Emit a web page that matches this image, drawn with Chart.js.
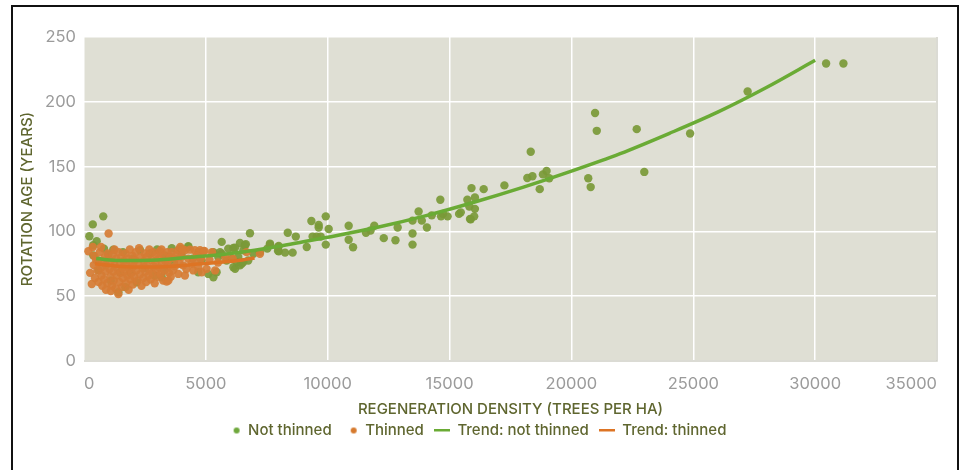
<!DOCTYPE html>
<html>
<head>
<meta charset="utf-8">
<script src="https://cdn.jsdelivr.net/npm/chart.js@4.4.1/dist/chart.umd.min.js"></script>
<style>
    html, body { margin: 0; padding: 0; background: #fff; }
    #marco { position: absolute; left: 11px; top: 5px; width: 948px; height: 500px; border: 2px solid #111; box-sizing: border-box; }
    #contenedor { position: absolute; left: 0; top: 0; width: 963px; height: 470px; }
</style>
</head>
<body>
<div id="marco"></div>
<div id="contenedor"><canvas id="grafico"></canvas></div>
<script>

// [density, age]
let notThinned = [
    [220, 96.3], [360, 105.4], [790, 111.6], [520, 92.4], [380, 89.3], [820, 86.7], [1200, 85.9], [380, 81.5], [590, 77.6],
    [2300, 85.4], [3940, 86.7], [4280, 88], [3320, 81.5], [3530, 80.2], [3190, 64.6], [2160, 60.7], [1410, 53], [1890, 68.5], [1480, 68.5],
    [4280, 88.5], [4690, 84], [4830, 77.6], [4690, 68.5],
    [1000, 82], [1600, 84], [2700, 83], [3000, 86], [3600, 87], [4000, 82], [2500, 72], [2900, 66], [1100, 62], [1700, 57],
    [3700, 75], [4450, 79], [2000, 79], [3300, 70], [600, 70], [900, 74],
    [5100, 67.2], [5310, 64.6], [5310, 84], [5510, 80.2], [5580, 84], [5650, 91.9], [5650, 82.8], [5850, 77.6], [5920, 86.7],
    [6060, 78.9], [6130, 87.2], [6130, 72.4], [6200, 87.5], [6200, 71.1], [6270, 76.3], [6330, 80.2], [6400, 91.1], [6400, 73.8],
    [6470, 75], [6540, 85.4], [6540, 76.3], [6600, 89.3], [6640, 90.1], [6740, 77.6], [6810, 98.6], [6950, 82.8], [5440, 68.5],
    [7220, 84], [7520, 86.7], [7630, 89.8], [7990, 88.8], [7990, 84.7],
    [7630, 90.6], [7960, 88], [7960, 85], [8250, 83.6], [8560, 83.6], [8360, 99], [8690, 96], [9140, 88], [9330, 108],
    [9380, 96], [9550, 96], [9710, 96], [9630, 105], [9630, 103], [9920, 111.6], [10040, 101.8], [9920, 89.8],
    [10860, 104.4], [10860, 93.5], [11040, 87.8], [11570, 99], [11760, 100.7], [11910, 104.4],
    [12300, 94.8], [12780, 93.2], [12870, 103], [13480, 98.4], [13480, 89.8], [13480, 108.3], [13730, 115.3], [13860, 108.3],
    [14070, 103], [14270, 112.4], [14650, 111.6], [14730, 113.5], [14920, 111.6], [15390, 113.5], [15460, 114.7], [15840, 109.6],
    [14620, 124.4], [15730, 124.4], [15900, 133.4], [16040, 126.2], [15810, 119.2], [16040, 117.4], [16010, 111.6], [15870, 109.3],
    [16400, 132.6], [17250, 135.5], [18330, 161.5], [18190, 141.2], [18400, 142.5], [18700, 132.6], [18830, 144], [18980, 146.6],
    [19090, 141], [20690, 141], [20790, 134.2], [20970, 191.4], [21040, 177.6], [22680, 178.9], [22990, 145.9], [24870, 175.5],
    [27230, 208], [30450, 229.5], [31160, 229.5]
];

let thinned = [
    [180, 84.7], [360, 88], [320, 59.4], [250, 68], [400, 74], [450, 64], [500, 78], [550, 70], [600, 61], [420, 81],
    [650, 84], [700, 72], [720, 66], [750, 58], [780, 77], [820, 63], [850, 80], [880, 69], [900, 74], [950, 60], [980, 83],
    [1010, 98.4], [700, 88], [900, 55],
    [1050, 71], [1080, 65], [1100, 77], [1150, 58], [1180, 82], [1200, 69], [1220, 62], [1250, 74], [1300, 56], [1320, 79],
    [1350, 66], [1380, 71], [1410, 51.6], [1430, 84], [1450, 61], [1480, 75], [1500, 68], [1250, 86], [1100, 54],
    [1530, 80], [1560, 57], [1580, 72], [1600, 64], [1640, 77], [1680, 69], [1700, 83], [1720, 60], [1750, 74], [1780, 66],
    [1800, 79], [1830, 55], [1860, 71], [1880, 86], [1900, 63], [1930, 76], [1960, 68], [1990, 81], [2000, 59],
    [2030, 73], [2060, 65], [2100, 78], [2130, 84], [2160, 70], [2200, 62], [2230, 75], [2260, 87], [2300, 67], [2330, 80],
    [2360, 58], [2400, 72], [2430, 64], [2460, 77], [2490, 83],
    [2520, 69], [2550, 61], [2580, 74], [2620, 81], [2650, 66], [2680, 86], [2700, 71], [2740, 63], [2770, 78], [2800, 68],
    [2840, 84], [2870, 73], [2900, 60], [2930, 76], [2960, 82], [2990, 70],
    [3030, 65], [3060, 79], [3100, 72], [3120, 84.7], [3150, 67], [3180, 86], [3210, 75], [3250, 62], [3280, 81], [3300, 70],
    [3340, 77], [3390, 61.3], [3420, 84], [3460, 73], [3460, 77.6], [3490, 68],
    [3600, 84], [3530, 80], [3730, 78.9], [3730, 73], [3870, 85.4], [3870, 67.2], [3560, 65], [3650, 70], [3800, 82], [3920, 75],
    [3460, 62], [3950, 88],
    [4010, 80.2], [4070, 73.8], [4140, 85.4], [4140, 66], [4280, 78.9], [4350, 85.9], [4420, 75], [4490, 69.9], [4200, 71], [4050, 86],
    [4550, 85.4], [4550, 77.6], [4690, 72.4], [4760, 85.4], [4830, 68.5], [4900, 84.7], [4940, 84.9], [4620, 81], [4800, 79],
    [5030, 71.1], [5380, 69.9], [5150, 78], [5500, 76], [5800, 80], [6670, 84], [7220, 82.8], [6100, 79], [5250, 84]
];

// trend lines, read at a few densities
let trendNotThinned = [
    [500, 79], [1500, 77.5], [3000, 78], [4000, 79.5], [5000, 81], [6000, 83], [7000, 85.5], [8000, 88.5], [9000, 92],
    [10000, 95.5], [12000, 103], [14000, 112], [16000, 122.5], [18000, 134], [20000, 146.5], [22000, 160], [24000, 175.5],
    [26000, 192], [28000, 211], [30000, 232]
];
let trendThinned = [
    [450, 75], [1500, 73], [2500, 72.5], [3500, 73], [4500, 74.5], [5500, 76], [6500, 78], [7000, 79.5]
];

let xTicks = [0, 5000, 10000, 15000, 20000, 25000, 30000, 35000];
let yTicks = [0, 50, 100, 150, 200, 250];

let seriesNames = ['Not thinned', 'Thinned', 'Trend: not thinned', 'Trend: thinned'];

const colorTexto = '#5f662f';
const colorTick = '#9b9b9b';

function aPuntos(lista) {
    return lista.map(p => ({ x: p[0], y: p[1] }));
}

// small legend markers
function marcaPunto(color) {
    let c = document.createElement('canvas');
    c.width = 16; c.height = 8;
    let g = c.getContext('2d');
    g.fillStyle = color;
    g.beginPath();
    g.arc(12, 4, 3, 0, Math.PI * 2);
    g.fill();
    return c;
}
function marcaLinea(color) {
    let c = document.createElement('canvas');
    c.width = 16; c.height = 4;
    let g = c.getContext('2d');
    g.fillStyle = color;
    g.fillRect(0, 0, 16, 3);
    return c;
}

const marcas = [marcaPunto('#6fa83c'), marcaPunto('#d67a2e'), marcaLinea('#6aab35'), marcaLinea('#dd7424')];

// plot background
const fondoPlot = {
    id: 'fondoPlot',
    beforeDraw(chart) {
        const a = chart.chartArea;
        const ctx = chart.ctx;
        ctx.save();
        ctx.fillStyle = '#dfdfd4';
        ctx.fillRect(a.left, a.top, a.right - a.left, a.bottom - a.top);
        ctx.restore();
    },
    beforeDatasetsDraw(chart) {
        const a = chart.chartArea;
        const ctx = chart.ctx;
        ctx.save();
        ctx.strokeStyle = '#cfcfc6';
        ctx.lineWidth = 1.5;
        ctx.beginPath();
        ctx.moveTo(a.left, a.bottom);
        ctx.lineTo(a.right, a.bottom);
        ctx.lineTo(a.right, a.top);
        ctx.stroke();
        ctx.restore();
    }
};

const ctx = document.getElementById('grafico').getContext('2d');

let grafico = new Chart(ctx, {
    type: 'scatter',
    plugins: [fondoPlot],
    data: {
        datasets: [{
            label: seriesNames[0],
            data: aPuntos(notThinned),
            backgroundColor: 'rgba(122,153,55,0.92)',
            borderWidth: 0,
            pointRadius: 4.2,
            order: 4
        }, {
            label: seriesNames[1],
            data: aPuntos(thinned),
            backgroundColor: 'rgba(214,124,52,0.92)',
            borderWidth: 0,
            pointRadius: 4.2,
            order: 3
        }, {
            type: 'line',
            label: seriesNames[2],
            data: aPuntos(trendNotThinned),
            borderColor: '#6aab35',
            borderWidth: 3.5,
            pointRadius: 0,
            cubicInterpolationMode: 'monotone',
            order: 2
        }, {
            type: 'line',
            label: seriesNames[3],
            data: aPuntos(trendThinned),
            borderColor: '#dd7424',
            borderWidth: 3.5,
            pointRadius: 0,
            cubicInterpolationMode: 'monotone',
            order: 1
        }]
    },
    options: {
        responsive: true,
        maintainAspectRatio: false,
        animation: false,
        layout: { padding: { left: 14, right: 26, top: 37, bottom: 22 } },
        scales: {
            x: {
                type: 'linear',
                min: xTicks[0],
                max: xTicks[xTicks.length - 1],
                afterBuildTicks: s => { s.ticks = xTicks.map(v => ({ value: v })); },
                afterFit: s => { s.height = 52; s.paddingRight = 0; s.paddingLeft = 0; },
                grid: { color: '#ffffff', lineWidth: 1.5, drawTicks: false },
                border: { display: false },
                ticks: { color: colorTick, padding: 13, align: 'inner', font: { family: 'Inter', size: 16.5 }, callback: v => v },
                title: {
                    display: true,
                    text: 'REGENERATION DENSITY (TREES PER HA)',
                    color: colorTexto,
                    padding: { top: 6, bottom: -5 },
                    font: { family: 'Inter', size: 15, weight: '500' }
                }
            },
            y: {
                min: yTicks[0],
                max: yTicks[yTicks.length - 1],
                afterBuildTicks: s => { s.ticks = yTicks.map(v => ({ value: v })); },
                afterFit: s => { s.width = 70; },
                grid: { color: '#ffffff', lineWidth: 1.5, drawTicks: false },
                border: { display: false },
                ticks: { color: colorTick, padding: 8, font: { family: 'Inter', size: 16.5 } },
                title: {
                    display: true,
                    text: 'ROTATION AGE (YEARS)',
                    color: colorTexto,
                    padding: { top: 4, bottom: 4 },
                    font: { family: 'Inter', size: 15, weight: '500' }
                }
            }
        },
        plugins: {
            tooltip: { enabled: false },
            legend: {
                position: 'bottom',
                labels: {
                    usePointStyle: true,
                    pointStyleWidth: 16,
                    boxHeight: 8,
                    padding: 10,
                    color: colorTexto,
                    font: { family: 'Inter', size: 15, weight: '500' },
                    generateLabels: function (chart) {
                        return seriesNames.map((n, i) => ({
                            text: n,
                            datasetIndex: i,
                            pointStyle: marcas[i],
                            fillStyle: 'transparent',
                            strokeStyle: 'transparent',
                            lineWidth: 0,
                            fontColor: colorTexto,
                            hidden: false
                        }));
                    }
                }
            }
        }
    }
});

</script>
</body>
</html>
